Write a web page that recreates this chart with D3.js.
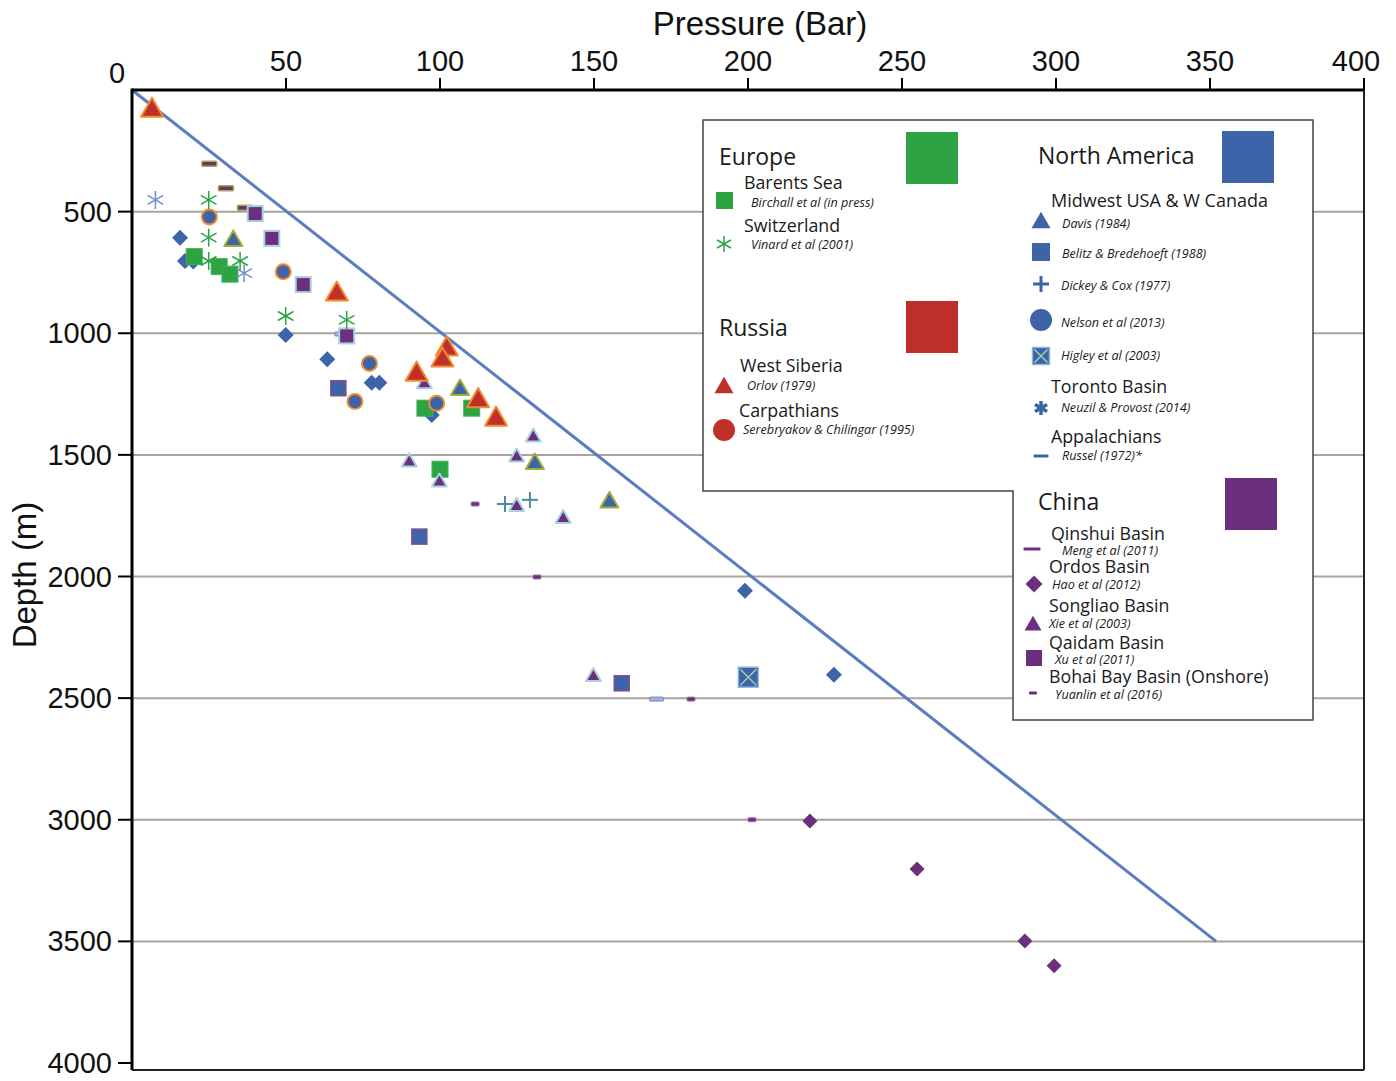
<!DOCTYPE html>
<html><head><meta charset="utf-8">
<script src="https://cdn.jsdelivr.net/npm/d3@7"></script>
<style>body{margin:0;background:#fff}svg{display:block}</style>
</head><body>
<script>
// ---- data: [pressure (bar), depth (m)] ----
const xTicks = [50,100,150,200,250,300,350,400];
const yTicks = [500,1000,1500,2000,2500,3000,3500,4000];
const hydrostatic = [[0,0],[352,3500]];
const westSiberia = [[6.5,80],[66.5,836],[102.2,1062],[100.8,1107],[92.4,1165],[112.4,1274],[118.2,1350]];
const barentsSea = [[20.2,685],[28.3,726],[31.8,757],[95.1,1308],[110.3,1308],[100,1559]];
const switzerland = [[24.9,452],[24.9,607],[24.9,703],[35.1,703],[49.9,929],[69.7,945]];
const toronto = [[7.6,452],[36.4,753]];
const davis = [[32.9,617],[106.5,1230],[130.8,1534],[155,1692]];
const belitz = [[67,1226],[93.3,1836],[159,2439]];
const dickey = [[121.1,1702],[129.2,1685]];
const nelson = [[25.1,522],[49.1,747],[77.1,1124],[72.4,1281],[98.9,1288]];
const higley = [[200.1,2414]];
const appalachians = [[68.1,1003],[170.3,2504]];
const blueDiamonds = [[15.6,607],[17.2,703],[19.9,705],[49.9,1007],[63.4,1107],[77.8,1203],[80.3,1203],[97.3,1336],[199,2059],[227.9,2404]];
const qinshui = [[25.1,303],[30.5,404],[36.7,484]];
const ordos = [[220.1,3005],[254.9,3202],[289.9,3498],[299.4,3600]];
const songliao = [[94.9,1206],[130.3,1425],[90,1527],[124.9,1507],[99.8,1610],[124.9,1710],[140,1760],[149.8,2409]];
const qaidam = [[40,508],[45.4,610],[55.6,800],[69.7,1011]];
const bohai = [[111.4,1702],[131.5,2002],[181.5,2504],[201.3,3000]];

const C = {green:"#2ea344", red:"#bf302a", orange:"#f28a2e", blue:"#3d63a8", purple:"#6c2f7d",
  olive:"#a3ad3c", lightblue:"#a8d2df", teal:"#4f8b9c", grid:"#aaa39f"};

const W=1396,H=1081;
const svg = d3.select("body").append("svg").attr("width",W).attr("height",H);
const x = d3.scaleLinear([0,400],[132,1364]);
const y = d3.scaleLinear([0,4000],[90,1063]);
const axisFont = "'Liberation Sans', Arial, sans-serif";
const legFont = "'Open Sans', 'Noto Sans', sans-serif";

// gridlines
svg.append("g").selectAll("line").data(yTicks.slice(0,-1)).join("line")
  .attr("x1",x(0)).attr("x2",x(400)).attr("y1",d=>y(d)).attr("y2",d=>y(d))
  .attr("stroke",C.grid).attr("stroke-width",2);

// legend box
const leg = svg.append("g");
leg.append("path").attr("d","M703,120 H1313 V720 H1013 V491 H703 Z")
  .attr("fill","#fff").attr("stroke","#444").attr("stroke-width",1.5);

// hydrostatic line
svg.append("path").datum(hydrostatic)
  .attr("d", d3.line().x(d=>x(d[0])).y(d=>y(d[1])))
  .attr("stroke","#5a7cc0").attr("stroke-width",3).attr("fill","none");

// marker drawing helpers
function tri(g, s, fill, stroke, sw){
  const h = s*Math.sqrt(3)/2;
  g.append("path").attr("d",`M0,${-h*0.62} L${s/2},${h*0.38} L${-s/2},${h*0.38} Z`)
   .attr("fill",fill).attr("stroke",stroke).attr("stroke-width",sw).attr("stroke-linejoin","round");
}
function sq(g, s, fill, stroke, sw){
  g.append("rect").attr("x",-s/2).attr("y",-s/2).attr("width",s).attr("height",s)
   .attr("fill",fill).attr("stroke",stroke).attr("stroke-width",sw);
}
function circ(g, r, fill, stroke, sw){
  g.append("circle").attr("r",r).attr("fill",fill).attr("stroke",stroke).attr("stroke-width",sw);
}
function diamond(g, s, fill){
  g.append("path").attr("d",`M0,${-s/2} L${s/2},0 L0,${s/2} L${-s/2},0 Z`).attr("fill",fill);
}
function aster(g, s, color, sw){
  [90,30,150].forEach(a=>{
    const dx=Math.cos(a*Math.PI/180)*s/2, dy=Math.sin(a*Math.PI/180)*s/2;
    g.append("line").attr("x1",-dx).attr("y1",-dy).attr("x2",dx).attr("y2",dy)
     .attr("stroke",color).attr("stroke-width",sw);
  });
}
function cross(g, s, color, sw){
  g.append("line").attr("x1",-s/2).attr("x2",s/2).attr("y1",0).attr("y2",0).attr("stroke",color).attr("stroke-width",sw);
  g.append("line").attr("y1",-s/2).attr("y2",s/2).attr("x1",0).attr("x2",0).attr("stroke",color).attr("stroke-width",sw);
}
function dash(g, w, h, fill, stroke, sw){
  g.append("rect").attr("x",-w/2).attr("y",-h/2).attr("width",w).attr("height",h)
   .attr("fill",fill).attr("stroke",stroke).attr("stroke-width",sw).attr("rx",1);
}
function higleyMark(g, s){
  sq(g, s, C.blue, "#8fb7d8", 1.5);
  g.append("path").attr("d",`M${-s/2+2},${-s/2+2} L${s/2-2},${s/2-2} M${s/2-2},${-s/2+2} L${-s/2+2},${s/2-2}`)
   .attr("stroke","#9fd0a4").attr("stroke-width",1.5);
}

const series = [
  {data:qinshui, draw:g=>dash(g,15,5,C.purple,C.olive,1.5)},
  {data:bohai, draw:g=>dash(g,8,4,C.purple,"#a070b0",1)},
  {data:appalachians, draw:g=>dash(g,14,4,"#a3afe0","#7683c4",1)},
  {data:blueDiamonds, draw:g=>diamond(g,16,C.blue)},
  {data:ordos, draw:g=>diamond(g,15,C.purple)},
  {data:barentsSea, draw:g=>sq(g,16,C.green,"#3fb357",1)},
  {data:qaidam, draw:g=>sq(g,15,C.purple,C.lightblue,2)},
  {data:belitz, draw:g=>sq(g,15,C.blue,"#7d4f8f",1.5)},
  {data:nelson, draw:g=>circ(g,7.5,C.blue,C.orange,2)},
  {data:higley, draw:g=>higleyMark(g,20)},
  {data:davis, draw:g=>tri(g,18,C.blue,C.olive,2)},
  {data:songliao, draw:g=>tri(g,15,C.purple,C.lightblue,2)},
  {data:westSiberia, draw:g=>tri(g,22,C.red,C.orange,2)},
  {data:switzerland, draw:g=>aster(g,18,C.green,1.5)},
  {data:toronto, draw:g=>aster(g,18,"#6d8fd0",1.5)},
  {data:dickey, draw:g=>cross(g,16,C.teal,2)}
];
const pts = svg.append("g");
series.forEach(s=>{
  s.data.forEach(d=>{
    const g = pts.append("g").attr("transform",`translate(${x(d[0])},${y(d[1])})`);
    s.draw(g);
  });
});

// axes
const ax = svg.append("g");
ax.append("line").attr("x1",x(0)).attr("x2",x(400)).attr("y1",y(0)).attr("y2",y(0)).attr("stroke","#000").attr("stroke-width",3);
ax.append("line").attr("x1",x(0)).attr("x2",x(0)).attr("y1",y(0)-1.5).attr("y2",1070).attr("stroke","#000").attr("stroke-width",3);
ax.append("line").attr("x1",x(400)).attr("x2",x(400)).attr("y1",y(0)).attr("y2",1070).attr("stroke","#222").attr("stroke-width",2);
ax.append("line").attr("x1",x(0)).attr("x2",x(400)).attr("y1",1070).attr("y2",1070).attr("stroke","#222").attr("stroke-width",2);
ax.selectAll(".xt").data(xTicks).join("line").attr("x1",d=>x(d)).attr("x2",d=>x(d))
  .attr("y1",y(0)).attr("y2",y(0)-12).attr("stroke","#000").attr("stroke-width",2);
ax.selectAll(".xl").data(xTicks).join("text").attr("x",d=>d===400?x(d)-8:x(d)).attr("y",71)
  .attr("text-anchor","middle").attr("font-family",axisFont).attr("font-size",29).attr("fill","#111").text(d=>d);
ax.append("text").attr("x",117).attr("y",83).attr("text-anchor","middle").attr("font-family",axisFont)
  .attr("font-size",29).attr("fill","#111").text("0");
ax.selectAll(".yt").data(yTicks).join("line").attr("x1",x(0)).attr("x2",x(0)-14)
  .attr("y1",d=>y(d)).attr("y2",d=>y(d)).attr("stroke","#000").attr("stroke-width",2);
ax.selectAll(".yl").data(yTicks).join("text").attr("x",112).attr("y",d=>y(d)+10)
  .attr("text-anchor","end").attr("font-family",axisFont).attr("font-size",29).attr("fill","#111").text(d=>d);
ax.append("text").attr("x",760).attr("y",35).attr("text-anchor","middle").attr("font-family",axisFont)
  .attr("font-size",33).attr("fill","#111").text("Pressure (Bar)");
ax.append("text").attr("transform","translate(36,575) rotate(-90)").attr("text-anchor","middle")
  .attr("font-family",axisFont).attr("font-size",33).attr("fill","#111").text("Depth (m)");

// legend content
function t(xp,yp,txt,size,italic){
  leg.append("text").attr("x",xp).attr("y",yp).attr("font-family",legFont).attr("font-size",size)
    .attr("font-style",italic?"italic":"normal").attr("fill","#1a1a1a").text(txt);
}
const LS=17.8, CS=12.6;
function m(xp,yp,fn){ const g=leg.append("g").attr("transform",`translate(${xp},${yp})`); fn(g); }
const region = [
  ["Europe",719,165,C.green,906,132],
  ["Russia",719,336,C.red,906,301],
  ["North America",1038,164,C.blue,1222,131],
  ["China",1038,510,C.purple,1225,478]
];
region.forEach(r=>{
  t(r[1],r[2],r[0],23,false);
  leg.append("rect").attr("x",r[4]).attr("y",r[5]).attr("width",52).attr("height",52).attr("fill",r[3]);
});
t(744,189,"Barents Sea",LS); m(724.5,200.5,g=>sq(g,17,C.green,"none",0)); t(751,207,"Birchall et al (in press)",CS,true);
t(744,232,"Switzerland",LS); m(724,244,g=>aster(g,16,C.green,1.5)); t(751,249,"Vinard et al (2001)",CS,true);
t(740,372,"West Siberia",LS); m(724,387,g=>tri(g,19,C.red,"none",0)); t(747,390,"Orlov (1979)",CS,true);
t(739,417,"Carpathians",LS); m(724,430,g=>circ(g,11,C.red,"none",0)); t(743,434,"Serebryakov & Chilingar (1995)",CS,true);
t(1051,207,"Midwest USA & W Canada",18);
m(1041,222,g=>tri(g,19,C.blue,"none",0)); t(1062,228,"Davis (1984)",CS,true);
m(1041,252,g=>sq(g,18,C.blue,"none",0)); t(1062,258,"Belitz & Bredehoeft (1988)",CS,true);
m(1041,284,g=>cross(g,16,C.blue,3)); t(1061,290,"Dickey & Cox (1977)",CS,true);
m(1041,320,g=>circ(g,11,C.blue,"none",0)); t(1061,327,"Nelson et al (2013)",CS,true);
m(1041,356,g=>higleyMark(g,17)); t(1061,360,"Higley et al (2003)",CS,true);
t(1051,393,"Toronto Basin",LS);
m(1041,408,g=>{aster(g,14,C.blue,3.5);}); t(1061,412,"Neuzil & Provost (2014)",CS,true);
t(1051,443,"Appalachians",LS);
m(1041,456,g=>dash(g,15,3,C.blue,"none",0)); t(1062,460,"Russel (1972)*",CS,true);
t(1051,540,"Qinshui Basin",LS);
m(1032,549,g=>dash(g,17,3,C.purple,"none",0)); t(1062,555,"Meng et al (2011)",CS,true);
t(1049,573,"Ordos Basin",LS);
m(1034,584,g=>diamond(g,17,C.purple)); t(1052,589,"Hao et al (2012)",CS,true);
t(1049,612,"Songliao Basin",LS);
m(1033,625,g=>tri(g,17,C.purple,"none",0)); t(1049,628,"Xie et al (2003)",CS,true);
t(1049,649,"Qaidam Basin",LS);
m(1034,658,g=>sq(g,16,C.purple,"none",0)); t(1055,664,"Xu et al (2011)",CS,true);
t(1049,683,"Bohai Bay Basin (Onshore)",LS);
m(1033,693,g=>dash(g,8,3,C.purple,"none",0)); t(1055,699,"Yuanlin et al (2016)",CS,true);
</script>
</body></html>
